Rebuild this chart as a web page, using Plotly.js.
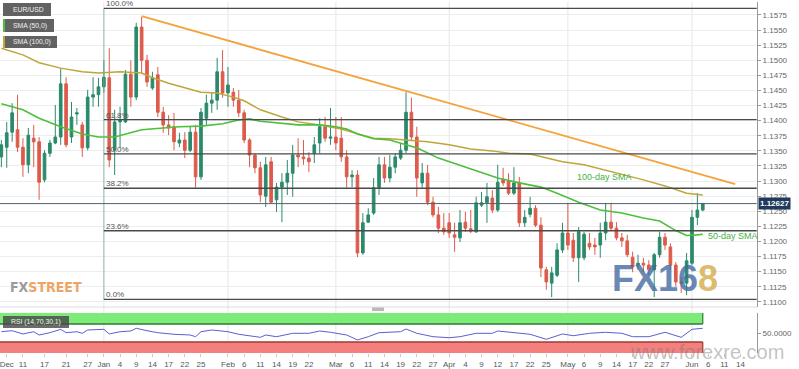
<!DOCTYPE html>
<html><head><meta charset="utf-8">
<script src="https://cdn.plot.ly/plotly-3.0.1.min.js"></script>
<style>html,body{margin:0;padding:0;background:#fff}#chart{width:799px;height:369px}</style>
</head><body><div id="chart"></div>
<script>
// ---- trading days (candles) ----
const dates = [
'2018-12-05','2018-12-06','2018-12-07','2018-12-10','2018-12-11','2018-12-12','2018-12-13','2018-12-14','2018-12-17','2018-12-18','2018-12-19','2018-12-20','2018-12-21','2018-12-24','2018-12-25','2018-12-26','2018-12-27','2018-12-28','2018-12-31',
'2019-01-01','2019-01-02','2019-01-03','2019-01-04','2019-01-07','2019-01-08','2019-01-09','2019-01-10','2019-01-11','2019-01-14','2019-01-15','2019-01-16','2019-01-17','2019-01-18','2019-01-21','2019-01-22','2019-01-23','2019-01-24','2019-01-25','2019-01-28','2019-01-29','2019-01-30','2019-01-31',
'2019-02-01','2019-02-04','2019-02-05','2019-02-06','2019-02-07','2019-02-08','2019-02-11','2019-02-12','2019-02-13','2019-02-14','2019-02-15','2019-02-18','2019-02-19','2019-02-20','2019-02-21','2019-02-22','2019-02-25','2019-02-26','2019-02-27','2019-02-28',
'2019-03-01','2019-03-04','2019-03-05','2019-03-06','2019-03-07','2019-03-08','2019-03-11','2019-03-12','2019-03-13','2019-03-14','2019-03-15','2019-03-18','2019-03-19','2019-03-20','2019-03-21','2019-03-22','2019-03-25','2019-03-26','2019-03-27','2019-03-28','2019-03-29',
'2019-04-01','2019-04-02','2019-04-03','2019-04-04','2019-04-05','2019-04-08','2019-04-09','2019-04-10','2019-04-11','2019-04-12','2019-04-15','2019-04-16','2019-04-17','2019-04-18','2019-04-19','2019-04-22','2019-04-23','2019-04-24','2019-04-25','2019-04-26','2019-04-29','2019-04-30',
'2019-05-01','2019-05-02','2019-05-03','2019-05-06','2019-05-07','2019-05-08','2019-05-09','2019-05-10','2019-05-13','2019-05-14','2019-05-15','2019-05-16','2019-05-17','2019-05-20','2019-05-21','2019-05-22','2019-05-23','2019-05-24','2019-05-27','2019-05-28','2019-05-29','2019-05-30','2019-05-31',
'2019-06-03','2019-06-04','2019-06-05'];
const futureDates = ['2019-06-06','2019-06-07','2019-06-10','2019-06-11','2019-06-12','2019-06-13','2019-06-14','2019-06-17','2019-06-18','2019-06-19'];

const open = [1.1340,1.1356,1.1381,1.1385,1.1356,1.1327,1.1371,1.1365,1.1302,1.1346,1.1363,1.1373,1.1461,1.1373,1.1411,1.1393,1.1355,1.1439,1.1443,
1.1456,1.1471,1.1351,1.1398,1.1398,1.1477,1.1439,1.1555,1.1500,1.1454,1.1476,1.1414,1.1393,1.1390,1.1363,1.1368,1.1351,1.1381,1.1307,1.1404,1.1429,1.1434,1.1481,
1.1446,1.1447,1.1434,1.1413,1.1368,1.1343,1.1322,1.1275,1.1332,1.1269,1.1290,1.1298,1.1313,1.1343,1.1340,1.1338,1.1346,1.1363,1.1390,1.1371,
1.1373,1.1371,1.1340,1.1307,1.1310,1.1181,1.1232,1.1247,1.1289,1.1327,1.1305,1.1323,1.1338,1.1351,1.1414,1.1373,1.1297,1.1313,1.1265,1.1244,1.1222,
1.1231,1.1211,1.1206,1.1232,1.1221,1.1216,1.1260,1.1264,1.1272,1.1252,1.1303,1.1300,1.1280,1.1297,1.1231,1.1245,1.1255,1.1227,1.1153,1.1131,1.1144,1.1186,
1.1214,1.1202,1.1173,1.1173,1.1197,1.1194,1.1194,1.1214,1.1232,1.1222,1.1206,1.1201,1.1174,1.1161,1.1164,1.1161,1.1153,1.1178,1.1207,1.1191,1.1161,1.1133,1.1131,
1.1164,1.1240,1.1252];
const high = [1.1368,1.1398,1.1429,1.1443,1.1371,1.1388,1.1393,1.1373,1.1351,1.1368,1.1426,1.1487,1.1472,1.1431,1.1421,1.1398,1.1451,1.1472,1.1471,
1.1500,1.1520,1.1418,1.1423,1.1484,1.1500,1.1562,1.1572,1.1509,1.1481,1.1489,1.1423,1.1409,1.1413,1.1380,1.1381,1.1390,1.1393,1.1421,1.1443,1.1447,1.1504,1.1517,
1.1489,1.1454,1.1451,1.1418,1.1371,1.1346,1.1332,1.1340,1.1340,1.1297,1.1313,1.1335,1.1360,1.1371,1.1368,1.1348,1.1373,1.1404,1.1406,1.1421,
1.1406,1.1406,1.1351,1.1318,1.1318,1.1247,1.1255,1.1305,1.1340,1.1340,1.1343,1.1346,1.1363,1.1447,1.1438,1.1390,1.1330,1.1327,1.1274,1.1257,1.1247,
1.1247,1.1231,1.1252,1.1249,1.1252,1.1274,1.1282,1.1297,1.1285,1.1327,1.1322,1.1313,1.1323,1.1307,1.1252,1.1274,1.1260,1.1240,1.1158,1.1158,1.1197,1.1231,
1.1264,1.1214,1.1224,1.1216,1.1214,1.1206,1.1231,1.1264,1.1264,1.1232,1.1214,1.1211,1.1183,1.1178,1.1173,1.1169,1.1181,1.1216,1.1214,1.1197,1.1166,1.1141,1.1181,
1.1252,1.1280,1.1264];
const low = [1.1323,1.1322,1.1365,1.1348,1.1307,1.1313,1.1323,1.1269,1.1298,1.1340,1.1361,1.1360,1.1356,1.1363,1.1393,1.1340,1.1351,1.1423,1.1423,
1.1446,1.1323,1.1310,1.1355,1.1396,1.1423,1.1434,1.1479,1.1456,1.1451,1.1406,1.1380,1.1376,1.1351,1.1356,1.1338,1.1348,1.1289,1.1302,1.1393,1.1413,1.1418,1.1438,
1.1423,1.1423,1.1406,1.1363,1.1323,1.1313,1.1265,1.1257,1.1264,1.1249,1.1232,1.1277,1.1274,1.1323,1.1327,1.1315,1.1330,1.1346,1.1365,1.1360,
1.1351,1.1332,1.1289,1.1290,1.1174,1.1178,1.1231,1.1244,1.1277,1.1297,1.1298,1.1313,1.1335,1.1346,1.1368,1.1274,1.1289,1.1260,1.1240,1.1214,1.1211,
1.1206,1.1183,1.1199,1.1216,1.1214,1.1214,1.1257,1.1231,1.1247,1.1249,1.1292,1.1277,1.1277,1.1224,1.1224,1.1240,1.1224,1.1141,1.1120,1.1108,1.1141,1.1181,
1.1186,1.1166,1.1133,1.1169,1.1186,1.1178,1.1173,1.1202,1.1219,1.1202,1.1191,1.1174,1.1149,1.1153,1.1149,1.1144,1.1108,1.1173,1.1186,1.1153,1.1125,1.1115,1.1111,
1.1161,1.1227,1.1250];
const close = [1.1360,1.1380,1.1413,1.1356,1.1327,1.1376,1.1365,1.1298,1.1346,1.1363,1.1373,1.1461,1.1360,1.1406,1.1413,1.1355,1.1439,1.1443,1.1456,
1.1472,1.1335,1.1398,1.1401,1.1477,1.1439,1.1555,1.1500,1.1464,1.1471,1.1414,1.1393,1.1388,1.1365,1.1368,1.1351,1.1381,1.1307,1.1414,1.1429,1.1434,1.1481,1.1446,
1.1459,1.1434,1.1413,1.1368,1.1343,1.1322,1.1277,1.1327,1.1265,1.1290,1.1298,1.1313,1.1343,1.1340,1.1337,1.1332,1.1360,1.1390,1.1371,1.1373,
1.1363,1.1340,1.1307,1.1310,1.1181,1.1231,1.1244,1.1289,1.1327,1.1305,1.1323,1.1340,1.1351,1.1414,1.1373,1.1305,1.1313,1.1265,1.1244,1.1222,1.1216,
1.1214,1.1207,1.1231,1.1222,1.1217,1.1264,1.1264,1.1274,1.1252,1.1298,1.1297,1.1280,1.1297,1.1231,1.1240,1.1255,1.1227,1.1156,1.1133,1.1148,1.1186,1.1214,
1.1194,1.1173,1.1216,1.1212,1.1191,1.1191,1.1214,1.1232,1.1222,1.1206,1.1201,1.1178,1.1158,1.1164,1.1161,1.1153,1.1178,1.1207,1.1194,1.1161,1.1133,1.1131,1.1168,
1.1240,1.1252,1.12627];

// ---- moving averages (read at sampled days) ----
const sma50Dates = ['2018-12-05','2018-12-11','2018-12-14','2018-12-20','2018-12-26','2018-12-31','2019-01-03','2019-01-07','2019-01-10','2019-01-16','2019-01-21','2019-01-25','2019-01-31','2019-02-05','2019-02-07','2019-02-11','2019-02-15','2019-02-20','2019-02-26','2019-03-01','2019-03-05','2019-03-07','2019-03-12','2019-03-15','2019-03-20','2019-03-22','2019-03-28','2019-04-04','2019-04-10','2019-04-12','2019-04-18','2019-04-22','2019-04-24','2019-04-29','2019-05-03','2019-05-09','2019-05-15','2019-05-21','2019-05-24','2019-05-29','2019-05-31','2019-06-04','2019-06-05'];
const sma50Vals = [1.1428,1.1418,1.1404,1.1390,1.1378,1.1373,1.1373,1.1378,1.1385,1.1388,1.1390,1.1391,1.1395,1.1401,1.1403,1.1399,1.1395,1.1393,1.1393,1.1390,1.1386,1.1378,1.1370,1.1368,1.1360,1.1355,1.1338,1.1323,1.1312,1.1305,1.1297,1.1293,1.1290,1.1280,1.1265,1.1252,1.1247,1.1239,1.1234,1.1218,1.1210,1.1211,1.1212];
const sma100Dates = ['2018-12-05','2018-12-11','2018-12-14','2018-12-20','2018-12-26','2018-12-31','2019-01-04','2019-01-10','2019-01-14','2019-01-17','2019-01-23','2019-01-25','2019-01-30','2019-02-04','2019-02-06','2019-02-11','2019-02-15','2019-02-20','2019-02-26','2019-03-04','2019-03-08','2019-03-12','2019-03-15','2019-03-20','2019-03-26','2019-04-01','2019-04-05','2019-04-11','2019-04-16','2019-04-22','2019-04-25','2019-04-30','2019-05-06','2019-05-10','2019-05-16','2019-05-21','2019-05-27','2019-05-31','2019-06-05'];
const sma100Vals = [1.1520,1.1509,1.1496,1.1487,1.1481,1.1479,1.1481,1.1479,1.1471,1.1462,1.1452,1.1447,1.1446,1.1439,1.1433,1.1418,1.1406,1.1398,1.1393,1.1386,1.1376,1.1371,1.1370,1.1368,1.1365,1.1360,1.1353,1.1350,1.1346,1.1345,1.1338,1.1332,1.1327,1.1318,1.1310,1.1302,1.1292,1.1280,1.1277];

// ---- RSI (14) read at sampled days ----
const rsiDates = ['2018-12-05','2018-12-07','2018-12-11','2018-12-13','2018-12-14','2018-12-18','2018-12-20','2018-12-21','2018-12-25','2018-12-26','2018-12-27','2019-01-01','2019-01-02','2019-01-04','2019-01-08','2019-01-09','2019-01-11','2019-01-15','2019-01-18','2019-01-23','2019-01-24','2019-01-25','2019-01-29','2019-02-01','2019-02-05','2019-02-07','2019-02-11','2019-02-12','2019-02-14','2019-02-19','2019-02-22','2019-02-26','2019-02-28','2019-03-05','2019-03-07','2019-03-11','2019-03-13','2019-03-19','2019-03-20','2019-03-22','2019-03-27','2019-04-01','2019-04-03','2019-04-08','2019-04-11','2019-04-12','2019-04-17','2019-04-22','2019-04-25','2019-04-30','2019-05-02','2019-05-07','2019-05-10','2019-05-15','2019-05-17','2019-05-22','2019-05-27','2019-05-28','2019-05-30','2019-06-03','2019-06-05'];
const rsiVals = [52.9,55.2,47.8,52.9,45.5,50.7,58.3,50.7,52.9,49.3,56.8,58.3,47.8,52.9,54.5,60.6,55.2,50.7,47.1,45.5,41.7,52.9,56.8,52.9,47.1,43.9,40.3,45.5,41.7,49.3,49.3,54.5,51.6,45.5,34.3,41.7,50.7,52.9,59.0,49.3,41.7,39.4,41.7,49.3,49.3,54.5,51.6,47.1,35.8,47.8,43.9,49.3,51.6,49.3,41.7,41.7,51.6,47.8,40.3,58.3,60.6];
const rsiUpper = 70, rsiLower = 30;

// ---- drawing tools ----
const trendDates = ['2019-01-10','2019-06-13'];
const trendVals = [1.1573, 1.1295];
const fibStart = '2019-01-01';
const fibLow = 1.1104, fibHigh = 1.1586;
const fibRatios = [0, 0.236, 0.382, 0.5, 0.618, 1.0];
const fibLabels = ['0.0%','23.6%','38.2%','50.0%','61.8%','100.0%'];
const lastPrice = 1.12627;

// ---- axis labels ----
const tickDates = ['2018-12-06','2018-12-11','2018-12-17','2018-12-21','2018-12-27','2019-01-01','2019-01-04','2019-01-09','2019-01-14','2019-01-17','2019-01-22','2019-01-25','2019-02-01','2019-02-06','2019-02-11','2019-02-14','2019-02-19','2019-02-22','2019-03-01','2019-03-06','2019-03-11','2019-03-14','2019-03-19','2019-03-22','2019-03-27','2019-04-01','2019-04-04','2019-04-09','2019-04-12','2019-04-17','2019-04-22','2019-04-25','2019-05-01','2019-05-06','2019-05-09','2019-05-14','2019-05-17','2019-05-22','2019-05-27','2019-06-03','2019-06-06','2019-06-11','2019-06-14'];
const tickText = ['Dec','11','17','21','27','Jan','4','9','14','17','22','25','Feb','6','11','14','19','22','Mar','6','11','14','19','22','27','Apr','4','9','12','17','22','25','May','6','9','14','17','22','27','Jun','6','11','14'];
const monthStarts = ['2019-01-01','2019-02-01','2019-03-01','2019-04-01','2019-05-01','2019-06-03'];

// ---------------------------------------------------------------
const axisDates = dates.concat(futureDates);
const pos = d => axisDates.indexOf(d);
const W = 757, H = 352, TOP = 2;
const PX = p => p / W;
const PY = p => (TOP + H - p) / H;
const FONT = 'Liberation Sans, Arial, sans-serif';

const traces = [
  {type:'scatter', mode:'lines', x: sma100Dates.map(pos), y: sma100Vals, line:{color:'#bda63a', width:1.5}, hoverinfo:'skip'},
  {type:'scatter', mode:'lines', x: sma50Dates.map(pos), y: sma50Vals, line:{color:'#4cbf3c', width:1.6}, hoverinfo:'skip'},
  {type:'candlestick', x: dates.map(pos), open, high, low, close,
   increasing:{line:{color:'#2b8a6c', width:1}, fillcolor:'#2b8a6c'},
   decreasing:{line:{color:'#dd5b4b', width:1}, fillcolor:'#dd5b4b'},
   whiskerwidth:0, hoverinfo:'skip'},
  {type:'scatter', mode:'lines', x: trendDates.map(pos), y: trendVals, line:{color:'#f4a23a', width:1.8}, hoverinfo:'skip'},
  {type:'scatter', mode:'lines', x: rsiDates.map(pos), y: rsiVals, yaxis:'y2', line:{color:'#5b5fd3', width:1}, hoverinfo:'skip'}
];

const xEnd = pos(futureDates[futureDates.length-1]);
const lastIdx = pos(dates[dates.length-1]);
const shapes = [];
monthStarts.forEach(d => shapes.push({type:'line', xref:'x', yref:'paper', x0:pos(d), x1:pos(d), y0:0, y1:1, line:{color:'#e6e6e6', width:1}, layer:'below'}));
// RSI bands
shapes.push({type:'rect', xref:'x', yref:'y2', x0:-1, x1:lastIdx, y0:rsiUpper, y1:95, fillcolor:'#7ceb78', line:{width:0}, layer:'below'});
shapes.push({type:'rect', xref:'x', yref:'y2', x0:-1, x1:lastIdx, y0:5, y1:rsiLower, fillcolor:'#f47f7c', line:{width:0}, layer:'below'});
shapes.push({type:'line', xref:'x', yref:'y2', x0:-1, x1:lastIdx, y0:rsiUpper, y1:rsiUpper, line:{color:'#2f7a34', width:1.5}});
shapes.push({type:'line', xref:'x', yref:'y2', x0:-1, x1:lastIdx, y0:rsiLower, y1:rsiLower, line:{color:'#9c3b36', width:1.5}});
shapes.push({type:'line', xref:'x', yref:'y2', x0:lastIdx, x1:lastIdx, y0:rsiUpper, y1:95, line:{color:'#2f7a34', width:1.2}});
shapes.push({type:'line', xref:'x', yref:'y2', x0:lastIdx, x1:lastIdx, y0:5, y1:rsiLower, line:{color:'#9c3b36', width:1.2}});
// panel separator & handle
shapes.push({type:'line', xref:'paper', yref:'paper', x0:0, x1:1, y0:PY(307), y1:PY(307), line:{color:'#dcdcdc', width:1}});
shapes.push({type:'rect', xref:'paper', yref:'paper', x0:PX(372), x1:PX(384), y0:PY(311), y1:PY(307.5), fillcolor:'#b9b9b9', line:{width:0}});
// fibonacci
const fibLevels = fibRatios.map(r => fibLow + r*(fibHigh - fibLow));
shapes.push({type:'line', xref:'x', yref:'y', x0:pos(fibStart), x1:pos(fibStart), y0:fibLow, y1:fibHigh, line:{color:'rgba(120,170,160,0.75)', width:1}});
fibLevels.forEach(v => shapes.push({type:'line', xref:'x', yref:'y', x0:pos(fibStart), x1:xEnd, y0:v, y1:v, line:{color:'#4a4a4a', width:1.3}}));
// last price line
shapes.push({type:'line', xref:'x', yref:'y', x0:-1, x1:xEnd, y0:lastPrice, y1:lastPrice, line:{color:'#50606f', width:1}});
// legend boxes
const boxes = [[3,3,51,16,'EUR/USD',null],[3,19,54,32,'SMA (50,0)','#4cbf3c'],[3,36,57,48,'SMA (100,0)','#bda63a']];
boxes.forEach(b => {
  shapes.push({type:'rect', xref:'paper', yref:'paper', x0:PX(b[0]), x1:PX(b[2]), y0:PY(b[3]), y1:PY(b[1]), fillcolor:'rgba(85,85,85,0.92)', line:{width:0}});
  if (b[5]) shapes.push({type:'rect', xref:'paper', yref:'paper', x0:PX(b[0]), x1:PX(b[0]+2), y0:PY(b[3]), y1:PY(b[1]), fillcolor:b[5], line:{width:0}});
});
shapes.push({type:'rect', xref:'paper', yref:'paper', x0:PX(3), x1:PX(69), y0:PY(328), y1:PY(316), fillcolor:'rgba(70,70,70,0.8)', line:{width:0}});

const annotations = [];
boxes.forEach(b => annotations.push({xref:'paper', yref:'paper', x:PX(b[0]+8), y:PY((b[1]+b[3])/2), xanchor:'left', yanchor:'middle', text:b[4], showarrow:false, font:{family:FONT, size:6.8, color:'#f2f2f2'}}));
annotations.push({xref:'paper', yref:'paper', x:PX(9), y:PY(322), xanchor:'left', yanchor:'middle', text:'RSI (14,70,30,1)', showarrow:false, font:{family:FONT, size:6.8, color:'#f2f2f2'}});
fibLevels.forEach((v,i) => annotations.push({xref:'x', yref:'y', x:pos(fibStart), y:v, xanchor:'left', yanchor:'bottom', text:fibLabels[i], showarrow:false, font:{family:FONT, size:8, color:'#555'}, yshift:-2}));
annotations.push({xref:'paper', yref:'y', x:1, y:lastPrice, xanchor:'left', yanchor:'middle', xshift:1, text:'<b>'+lastPrice.toFixed(5)+'</b>', showarrow:false, bgcolor:'#1f3a5c', borderpad:1, font:{family:FONT, size:8, color:'#fff'}});
annotations.push({xref:'paper', yref:'paper', x:PX(575), y:PY(177), xanchor:'left', yanchor:'middle', text:'100-day SMA', showarrow:false, font:{family:FONT, size:9, color:'#46b146'}});
annotations.push({xref:'paper', yref:'paper', x:PX(706), y:PY(236), xanchor:'left', yanchor:'middle', text:'50-day SMA', showarrow:false, font:{family:FONT, size:9, color:'#46b146'}});
annotations.push({xref:'paper', yref:'paper', x:PX(8), y:PY(287), xanchor:'left', yanchor:'middle', showarrow:false,
  text:'<b><span style="color:#9a9a9a">FX</span><span style="color:#eea464">STREET</span></b>', font:{family:'DejaVu Sans Condensed, Liberation Sans Narrow, Arial Narrow, sans-serif', size:14}});
annotations.push({xref:'paper', yref:'paper', x:PX(665), y:PY(278), xanchor:'center', yanchor:'middle', showarrow:false,
  text:'<b><span style="color:rgba(64,105,160,0.78)">FX16</span><span style="color:rgba(214,176,84,0.85)">8</span></b>', font:{family:FONT, size:36}});
annotations.push({xref:'paper', yref:'paper', x:PX(707), y:PY(352), xanchor:'center', yanchor:'middle', showarrow:false,
  text:'www.forexre.com', font:{family:FONT, size:20, color:'rgba(120,120,120,0.45)'}});

const layout = {
  width:799, height:369, margin:{l:0, r:42, t:TOP, b:15},
  paper_bgcolor:'#fff', plot_bgcolor:'#fff', showlegend:false, font:{family:FONT, size:8, color:'#555'},
  xaxis:{domain:[0,1], range:[-0.25, xEnd+0.05], anchor:'y2', tickmode:'array', tickvals:tickDates.map(pos), ticktext:tickText,
         ticks:'outside', ticklen:3, tickcolor:'#c8c8c8', tickfont:{size:8, color:'#555'}, showgrid:false, zeroline:false, showline:false,
         ticklabeloverflow:'allow', rangeslider:{visible:false}, fixedrange:true},
  yaxis:{domain:[PY(307),1], range:[1.10915, 1.15965], side:'right', anchor:'x', tickmode:'linear', tick0:1.11, dtick:0.0025, tickformat:'.4f',
         ticks:'outside', ticklen:3, tickcolor:'#999', tickfont:{size:8, color:'#666'}, gridcolor:'#ededed', showline:true, linecolor:'#999', linewidth:1, zeroline:false, fixedrange:true},
  yaxis2:{domain:[PY(353), PY(313)], range:[5,95], side:'right', anchor:'x', tickmode:'array', tickvals:[50], ticktext:['50.0000'],
         ticks:'outside', ticklen:3, tickcolor:'#999', tickfont:{size:8, color:'#666'}, showgrid:false, showline:true, linecolor:'#999', zeroline:false, fixedrange:true},
  shapes, annotations
};
Plotly.newPlot('chart', traces, layout, {displayModeBar:false, staticPlot:true});
</script>
</body></html>
